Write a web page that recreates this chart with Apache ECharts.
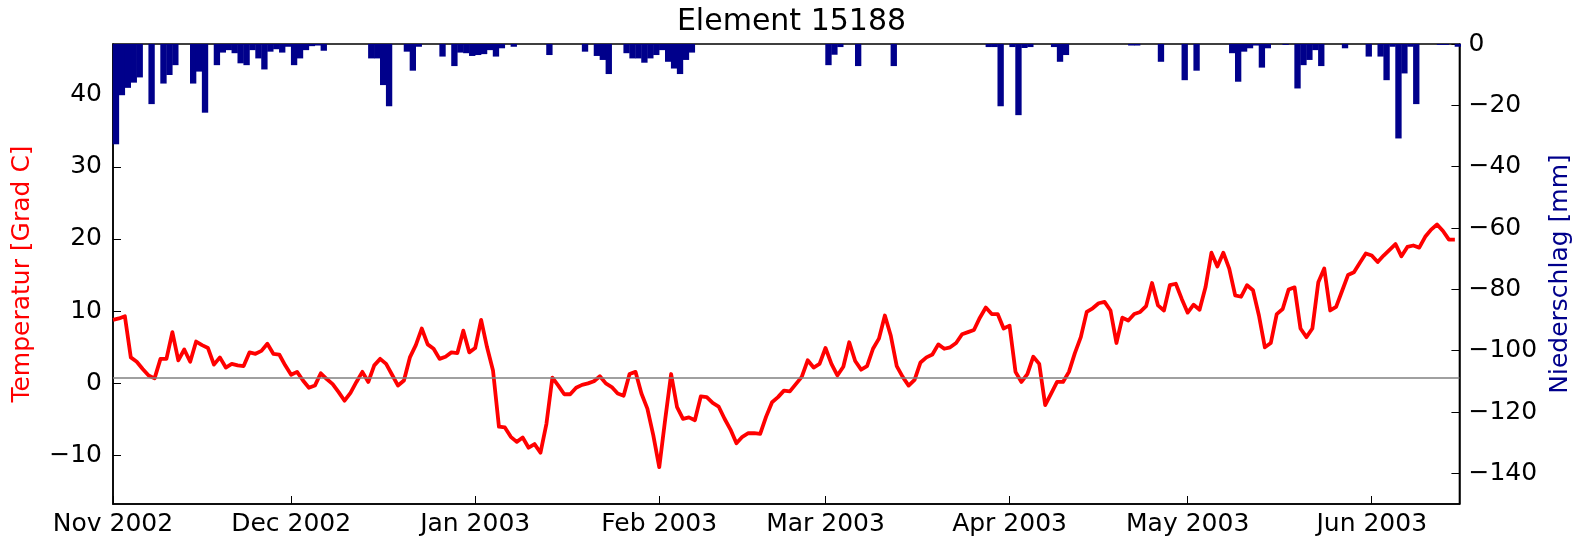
<!DOCTYPE html>
<html>
<head>
<meta charset="utf-8">
<title>Element 15188</title>
<script src="https://cdn.jsdelivr.net/npm/echarts@6/dist/echarts.min.js"></script>
<style>
  html, body { margin: 0; padding: 0; background: #ffffff; }
  #chart { width: 1581px; height: 540px; }
</style>
</head>
<body>
<div id="chart"></div>
<script>
// Daily series, first value on 1 Nov 2002; the x axis counts days from that date
const startDay = Date.UTC(2002, 10, 1);
const DAY = 86400000;

// Daily mean temperature [°C]
const temperatur = [
  // Nov 2002
  8.8, 9.0, 9.3, 3.6, 3.0, 2.0, 1.1, 0.7, 3.4, 3.4,
  7.1, 3.2, 4.7, 3.0, 5.8, 5.3, 4.9, 2.6, 3.6, 2.2,
  2.7, 2.5, 2.4, 4.3, 4.1, 4.5, 5.5, 4.1, 4.0, 2.5,
  // Dec 2002
  1.2, 1.6, 0.4, -0.6, -0.3, 1.4, 0.6, -0.1, -1.2, -2.4,
  -1.3, 0.2, 1.6, 0.2, 2.5, 3.4, 2.7, 1.2, -0.3, 0.4,
  3.6, 5.3, 7.6, 5.4, 4.8, 3.4, 3.7, 4.3, 4.2, 7.3,
  4.3,
  // Jan 2003
  4.9, 8.8, 5.0, 1.8, -6.0, -6.1, -7.4, -8.1, -7.5, -8.9,
  -8.4, -9.6, -5.6, 0.8, -0.3, -1.5, -1.5, -0.6, -0.2, 0.0,
  0.3, 1.0, 0.0, -0.5, -1.4, -1.7, 1.3, 1.6, -1.4, -3.5,
  -7.2,
  // Feb 2003
  -11.6, -5.0, 1.3, -3.3, -4.9, -4.7, -5.1, -1.8, -1.9, -2.7,
  -3.2, -4.9, -6.4, -8.3, -7.4, -6.9, -6.9, -7.0, -4.6, -2.6,
  -1.9, -1.0, -1.1, -0.1, 0.9, 3.2, 2.2, 2.7,
  // Mar 2003
  4.9, 2.7, 1.1, 2.3, 5.7, 3.1, 1.9, 2.4, 4.8, 6.2,
  9.4, 6.6, 2.4, 0.9, -0.3, 0.5, 2.9, 3.6, 4.0, 5.4,
  4.8, 5.0, 5.6, 6.8, 7.1, 7.4, 9.1, 10.5, 9.6, 9.6,
  7.6,
  // Apr 2003
  8.0, 1.6, 0.2, 1.3, 3.7, 2.7, -3.0, -1.4, 0.2, 0.2,
  1.6, 4.2, 6.4, 9.9, 10.4, 11.1, 11.3, 10.1, 5.6, 9.1,
  8.7, 9.6, 9.9, 10.7, 13.9, 10.8, 10.1, 13.6, 13.8, 11.7,
  // May 2003
  9.8, 10.9, 10.2, 13.3, 18.1, 16.2, 18.1, 15.9, 12.2, 12.0,
  13.6, 12.9, 9.4, 5.0, 5.6, 9.6, 10.3, 13.0, 13.3, 7.6,
  6.4, 7.6, 14.0, 15.9, 10.1, 10.6, 12.8, 15.0, 15.4, 16.7,
  18.0,
  // Jun 2003
  17.7, 16.8, 17.7, 18.5, 19.3, 17.6, 18.9, 19.1, 18.8, 20.3,
  21.3, 22.0, 21.1, 19.9, 19.9
];

// Daily precipitation [mm], drawn downward from the top edge
const niederschlag = [
  // Nov 2002
  -32.7, -16.7, -14.3, -12.6, -10.9, 0, -19.6, 0, -12.9, -10.1,
  -6.9, 0, 0, -12.9, -9.0, -22.4, 0, -6.9, -2.8, -2.0,
  -3.0, -6.3, -6.9, -2.0, -4.7, -8.3, -2.5, -1.7, -2.8, -0.9,
  // Dec 2002
  -6.9, -4.7, -2.0, -0.7, -0.5, -2.2, 0, 0, 0, 0,
  0, 0, 0, -4.7, -4.7, -13.4, -20.3, 0, 0, -2.5,
  -8.7, -0.9, 0, 0, 0, -4.1, 0, -7.2, -2.8, -3.0,
  -3.9,
  // Jan 2003
  -3.6, -3.3, -2.0, -4.1, -1.4, 0, -0.9, 0, 0, 0,
  0, 0, -3.6, 0, 0, 0, 0, 0, -2.5, 0,
  -3.9, -5.2, -9.8, 0, 0, -3.0, -4.7, -4.7, -6.1, -4.7,
  -3.6,
  // Feb 2003
  -2.0, -5.8, -8.0, -9.8, -5.2, -2.8, 0, 0, 0, 0,
  0, 0, 0, 0, 0, 0, 0, 0, 0, 0,
  0, 0, 0, 0, 0, 0, 0, 0,
  // Mar 2003
  -6.9, -3.5, -1.0, 0, 0, -7.2, 0, 0, 0, 0,
  0, -7.2, 0, 0, 0, 0, 0, 0, 0, 0,
  0, 0, 0, 0, 0, 0, 0, -1.0, -1.0, -20.3,
  0,
  // Apr 2003
  -1.0, -23.2, -1.3, -1.0, 0, 0, 0, -1.0, -5.8, -3.6,
  0, 0, 0, 0, 0, 0, 0, 0, 0, 0,
  -0.5, -0.5, 0, 0, 0, -5.8, 0, 0, 0, -11.8,
  // May 2003
  0, -8.7, 0, 0, 0, 0, 0, -3.0, -12.3, -2.5,
  -1.4, -0.5, -7.7, -1.4, 0, 0, -0.3, 0, -14.5, -6.9,
  -5.2, -2.0, -7.2, 0, 0, 0, -1.4, 0, 0, 0,
  -4.1,
  // Jun 2003
  0, -4.1, -11.8, -0.9, -30.8, -9.6, -0.9, -19.6, 0, 0,
  0, -0.3, -0.3, 0, -0.9
];

// Axis ticks and labels
const monthStarts = ['2002-11-01', '2002-12-01', '2003-01-01', '2003-02-01',
                     '2003-03-01', '2003-04-01', '2003-05-01', '2003-06-01'];
const monthLabels = ['Nov 2002', 'Dec 2002', 'Jan 2003', 'Feb 2003',
                     'Mar 2003', 'Apr 2003', 'May 2003', 'Jun 2003'];
const tempTicks = [-10, 0, 10, 20, 30, 40];
const rainTicks = [-140, -120, -100, -80, -60, -40, -20, 0];
const referenzLinie = 0.8;

// Axis limits
const xEndDays = 226.77;
const tempMin = -16.7, tempMax = 47;
const rainMin = -150, rainMax = 0;

const FONT = 'DejaVu Sans';
const dayOf = s => Math.round((Date.parse(s + 'T00:00:00Z') - startDay) / DAY);
const monthTickDays = monthStarts.map(dayOf);
const minus = v => (v < 0 ? '\u2212' + Math.abs(v) : String(v));

const chart = echarts.init(document.getElementById('chart'), null, { renderer: 'canvas' });

const grid = { left: 113, right: 121, top: 44, bottom: 36 };
const plotWidth = chart.getWidth() - grid.left - grid.right;
const dayWidth = plotWidth / xEndDays;

const tempData = temperatur.map((v, i) => [i, v]);
// each bar covers its whole day
const rainData = niederschlag.map((v, i) => [i + 0.5, v]);

chart.setOption({
  animation: false,
  backgroundColor: '#ffffff',
  title: {
    text: 'Element 15188',
    left: grid.left + plotWidth / 2,
    top: 2,
    textAlign: 'center',
    textStyle: { fontFamily: FONT, fontSize: 30, fontWeight: 'normal', color: '#000000' }
  },
  grid: Object.assign({ show: true, borderColor: '#000000', borderWidth: 1.5, backgroundColor: 'transparent' }, grid),
  xAxis: {
    type: 'value',
    min: 0,
    max: xEndDays,
    axisLine: { show: true, onZero: false, lineStyle: { color: '#000000', width: 1.5 } },
    axisTick: { show: true, inside: true, length: 8, customValues: monthTickDays,
                lineStyle: { color: '#000000', width: 1 } },
    axisLabel: {
      customValues: monthTickDays,
      margin: 8,
      fontFamily: FONT, fontSize: 25, color: '#000000',
      formatter: (val) => monthLabels[monthTickDays.indexOf(Math.round(val))] || ''
    },
    splitLine: { show: false }
  },
  yAxis: [
    {
      type: 'value',
      position: 'left',
      min: tempMin,
      max: tempMax,
      name: 'Temperatur [Grad C]',
      nameLocation: 'middle',
      nameRotate: 90,
      nameGap: 78,
      nameTextStyle: { fontFamily: FONT, fontSize: 25, color: '#ff0000' },
      axisLine: { show: true, onZero: false, lineStyle: { color: '#000000', width: 1.5 } },
      axisTick: { show: true, inside: true, length: 8, customValues: tempTicks,
                  lineStyle: { color: '#000000', width: 1 } },
      axisLabel: { customValues: tempTicks, margin: 11, fontFamily: FONT, fontSize: 25,
                   color: '#000000', formatter: minus },
      splitLine: { show: false }
    },
    {
      type: 'value',
      position: 'right',
      min: rainMin,
      max: rainMax,
      name: 'Niederschlag [mm]',
      nameLocation: 'middle',
      nameRotate: 90,
      nameGap: 88,
      nameTextStyle: { fontFamily: FONT, fontSize: 25, color: '#00008b' },
      axisLine: { show: true, onZero: false, lineStyle: { color: '#000000', width: 1.5 } },
      axisTick: { show: true, inside: true, length: 8, customValues: rainTicks,
                  lineStyle: { color: '#000000', width: 1 } },
      axisLabel: { customValues: rainTicks, margin: 9, fontFamily: FONT, fontSize: 25,
                   color: '#000000', formatter: minus },
      splitLine: { show: false }
    }
  ],
  series: [
    {
      name: 'Niederschlag',
      type: 'bar',
      yAxisIndex: 1,
      data: rainData,
      barWidth: dayWidth + 0.4,
      itemStyle: { color: '#00008b' },
      clip: true,
      silent: true
    },
    {
      name: 'Temperatur',
      type: 'line',
      yAxisIndex: 0,
      data: tempData,
      showSymbol: false,
      symbol: 'none',
      lineStyle: { color: '#ff0000', width: 3.8, join: 'round' },
      z: 3,
      silent: true,
      markLine: {
        silent: true,
        symbol: ['none', 'none'],
        label: { show: false },
        lineStyle: { color: '#808080', width: 1.5, type: 'solid' },
        data: [{ yAxis: referenzLinie }]
      }
    }
  ]
});
</script>
</body>
</html>
